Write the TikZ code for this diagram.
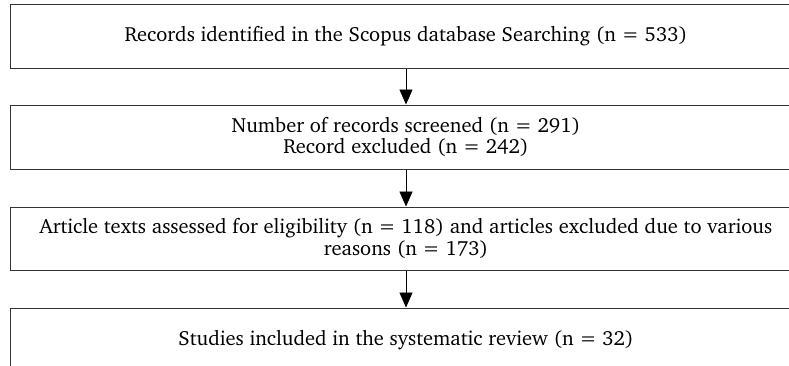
\documentclass[tikz,border=0pt]{standalone}
\usepackage[T1]{fontenc}
\usepackage{charter}
\usetikzlibrary{arrows.meta,positioning}

\tikzset{
    stage/.style={draw=black!80, line width=1bp, minimum width=790bp, minimum height=64bp,
        align=center, inner sep=0pt, font=\fontsize{20.5bp}{21.7bp}\selectfont},
    flow/.style={draw=black, line width=0.9bp, -{Triangle[length=15bp,width=13bp]}}
}

\begin{document}
\begin{tikzpicture}[x=1bp, y=-1bp]
        \clip (0,0) rectangle (789,365);
        \node [stage] (search) at (406,36) {Records identified in the Scopus database Searching (n = 533)};
        \node [stage, below=36bp of search] (screen) {Number of records screened (n = 291)\\ Record excluded (n = 242)};
        \node [stage, below=37bp of screen, minimum height=63bp] (assess) {Article texts assessed for eligibility (n = 118) and articles excluded due to various\\ reasons (n = 173)};
        \node [stage, below=37bp of assess] (review) {Studies included in the systematic review (n = 32)};

        \draw [flow] (search) to (screen);
        \draw [flow] (screen) to (assess);
        \draw [flow] (assess) to (review);
\end{tikzpicture}
\end{document}
